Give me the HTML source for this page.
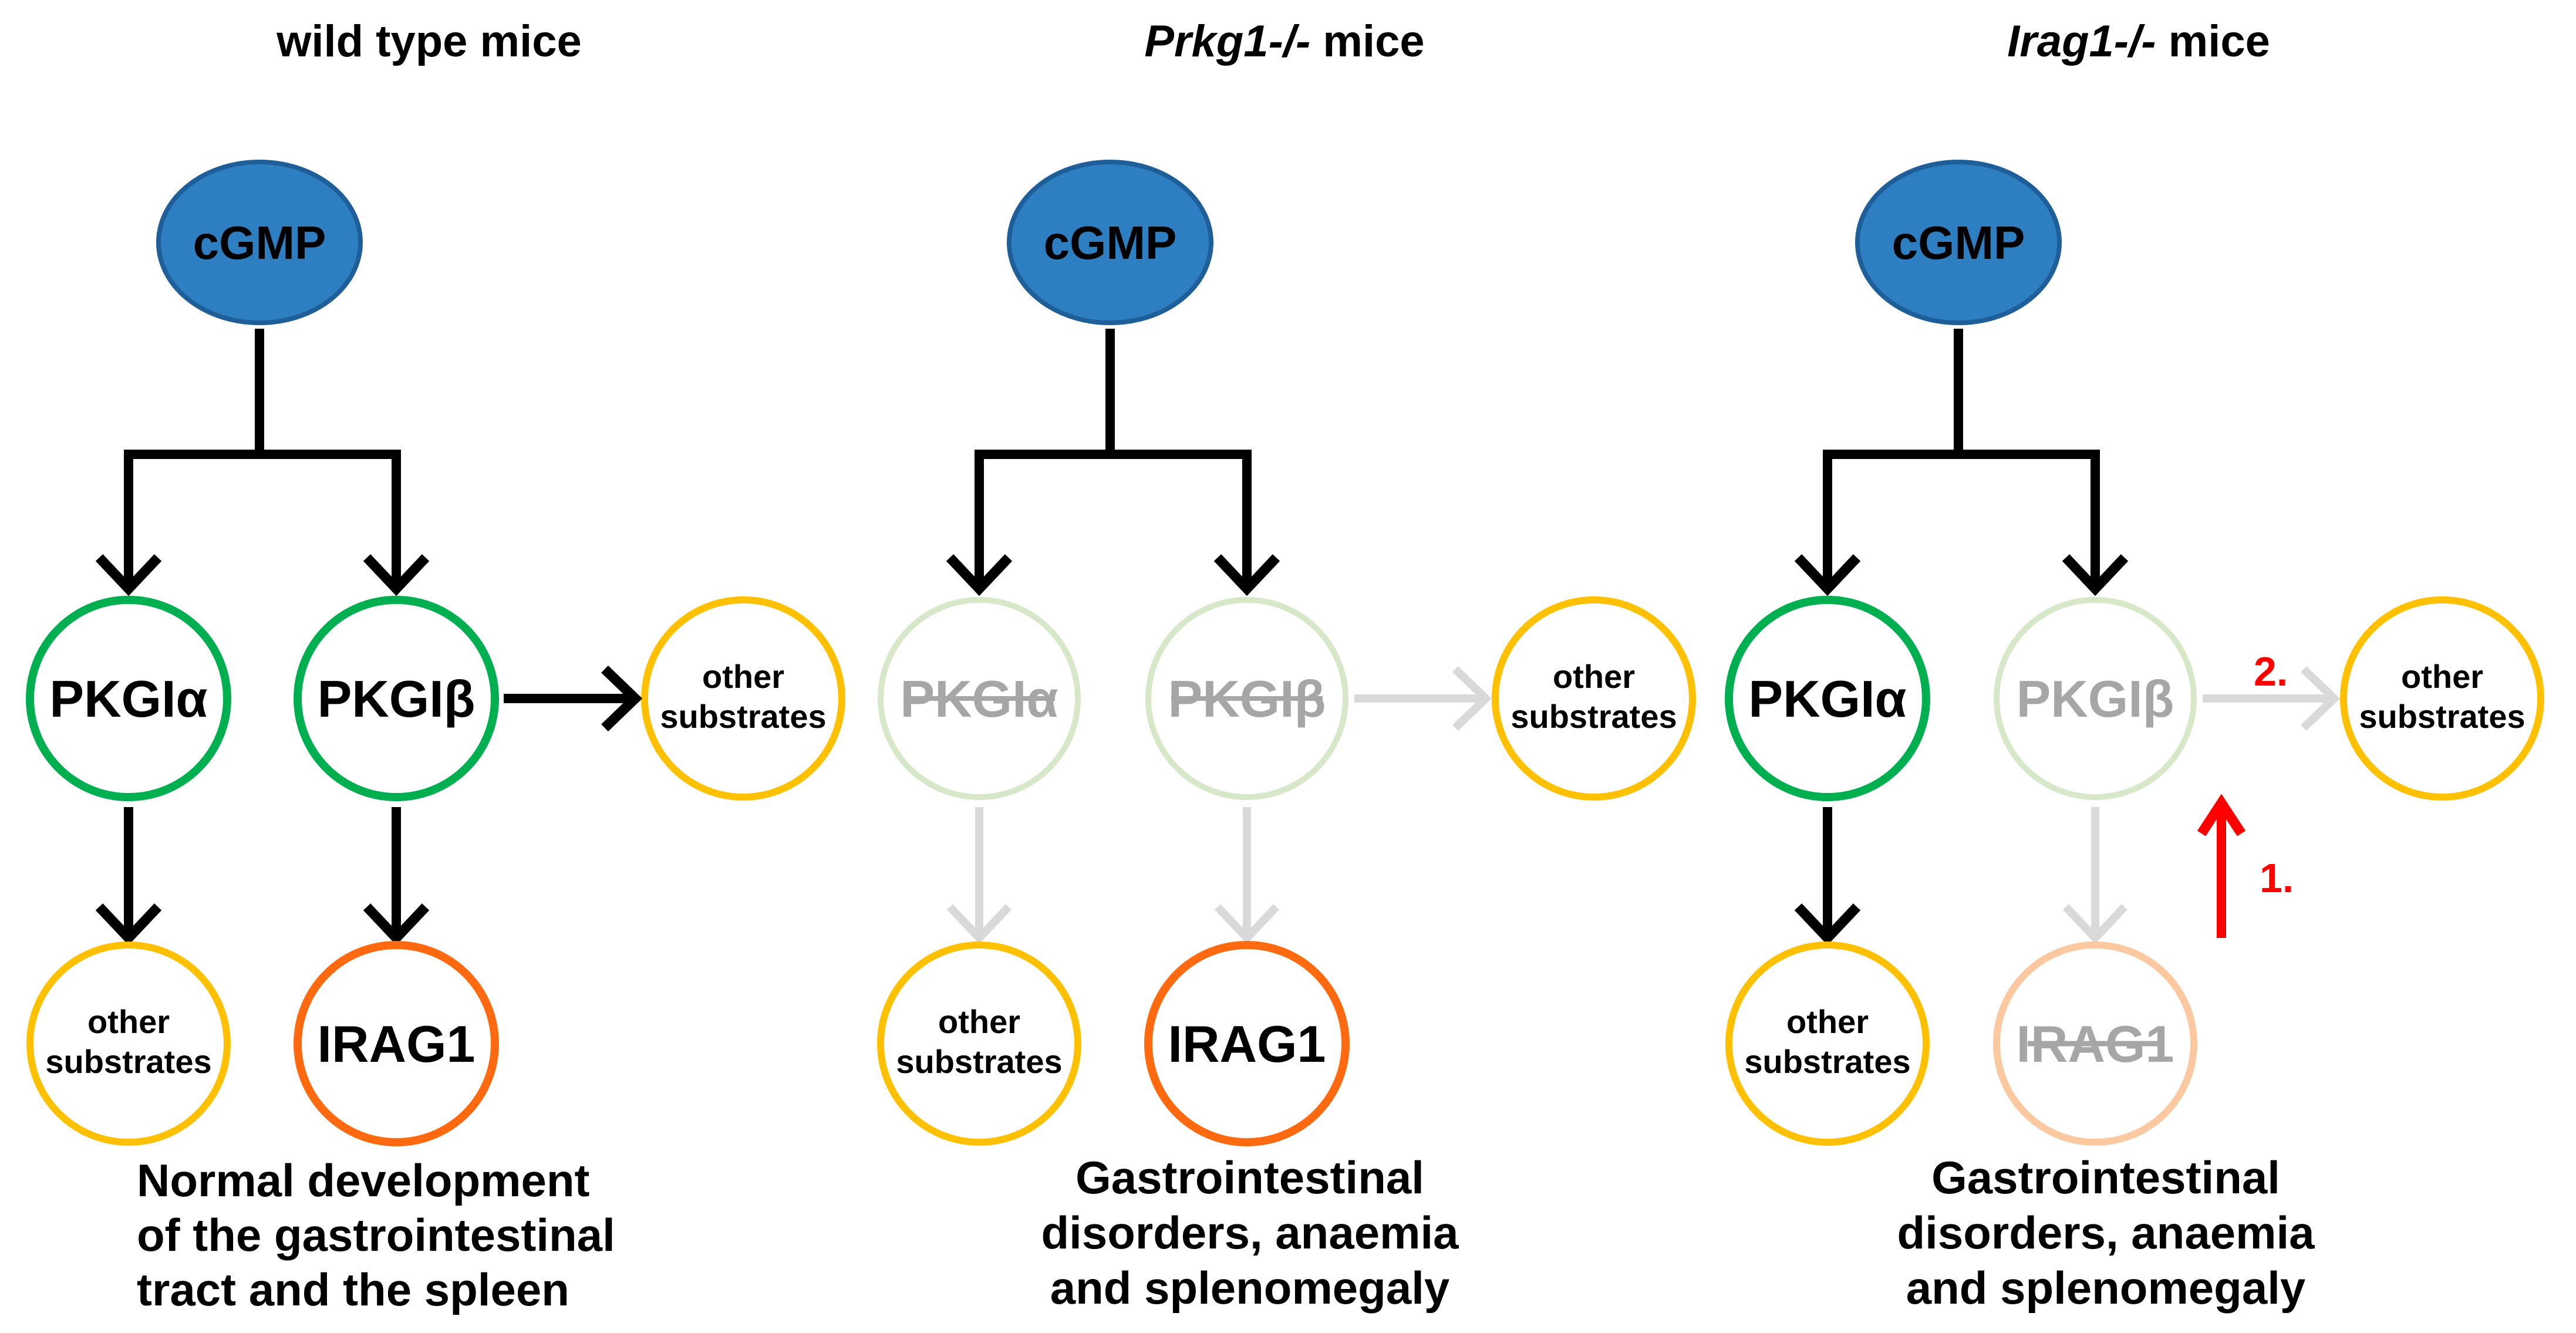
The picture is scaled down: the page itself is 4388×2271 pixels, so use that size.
<!DOCTYPE html>
<html><head><meta charset="utf-8"><style>
html,body{margin:0;padding:0;background:#fff}
svg{display:block}
text{font-family:"Liberation Sans",Arial,sans-serif;font-weight:bold}
</style></head><body>
<svg width="4388" height="2271" viewBox="0 0 4388 2271" xmlns="http://www.w3.org/2000/svg">
<defs>
<g id="tree">
<line x1="442" y1="560" x2="442" y2="780" stroke="#000" stroke-width="16"/>
<polyline points="219,995 219,774 675,774 675,995" fill="none" stroke="#000" stroke-width="16" stroke-linejoin="miter"/>
<polyline points="169,950 219,1003 269,950" fill="none" stroke="#000" stroke-width="17"/>
<polyline points="625,950 675,1003 725,950" fill="none" stroke="#000" stroke-width="17"/>
<ellipse cx="442" cy="413" rx="172" ry="137" fill="#2e7fc1" stroke="#1f5f99" stroke-width="8"/>
<text x="442" y="441" font-size="80" text-anchor="middle" fill="#000">cGMP</text>
</g>
<g id="ah"><polyline points="-36,-50 0,0 36,-50" fill="none" stroke-width="16"/></g>
</defs>

<text x="731" y="96" font-size="76" text-anchor="middle">wild type mice</text>
<text x="2188" y="96" font-size="76" text-anchor="middle"><tspan font-style="italic">Prkg1-/-</tspan> mice</text>
<text x="3643" y="96" font-size="76" text-anchor="middle"><tspan font-style="italic">Irag1-/-</tspan> mice</text>

<!-- Column 1 -->
<use href="#tree"/>
<circle cx="219" cy="1190" r="168" fill="#fff" stroke="#00b050" stroke-width="14"/>
<text x="219" y="1221" font-size="88" text-anchor="middle">PKGIα</text>
<circle cx="675" cy="1190" r="168" fill="#fff" stroke="#00b050" stroke-width="14"/>
<text x="675" y="1221" font-size="88" text-anchor="middle">PKGIβ</text>
<circle cx="1266" cy="1190" r="168" fill="#fff" stroke="#ffc000" stroke-width="12"/>
<text x="1266" y="1172" font-size="56" text-anchor="middle">other</text>
<text x="1266" y="1240" font-size="56" text-anchor="middle">substrates</text>
<line x1="858" y1="1190" x2="1075" y2="1190" stroke="#000" stroke-width="16"/>
<polyline points="1030,1140 1082,1190 1030,1240" fill="none" stroke="#000" stroke-width="17"/>
<line x1="219" y1="1375" x2="219" y2="1590" stroke="#000" stroke-width="16"/>
<polyline points="169,1545 219,1598 269,1545" fill="none" stroke="#000" stroke-width="17"/>
<line x1="675" y1="1375" x2="675" y2="1590" stroke="#000" stroke-width="16"/>
<polyline points="625,1545 675,1598 725,1545" fill="none" stroke="#000" stroke-width="17"/>
<circle cx="219" cy="1778" r="168" fill="#fff" stroke="#ffc000" stroke-width="12"/>
<text x="219" y="1760" font-size="56" text-anchor="middle">other</text>
<text x="219" y="1828" font-size="56" text-anchor="middle">substrates</text>
<circle cx="675" cy="1778" r="168" fill="#fff" stroke="#ff6a10" stroke-width="14"/>
<text x="675" y="1809" font-size="88" text-anchor="middle">IRAG1</text>
<text x="233" y="2038" font-size="78">Normal development</text>
<text x="233" y="2131" font-size="78">of the gastrointestinal</text>
<text x="233" y="2224" font-size="78">tract and the spleen</text>

<!-- Column 2 -->
<g transform="translate(1449,0)">
<use href="#tree"/>
<circle cx="219" cy="1190" r="168" fill="#fff" stroke="#d6e8c8" stroke-width="10"/>
<text x="219" y="1221" font-size="88" text-anchor="middle" fill="#a6a6a6">PKGIα</text>
<line x1="90" y1="1190" x2="348" y2="1190" stroke="#a6a6a6" stroke-width="8"/>
<circle cx="675" cy="1190" r="168" fill="#fff" stroke="#d6e8c8" stroke-width="10"/>
<text x="675" y="1221" font-size="88" text-anchor="middle" fill="#a6a6a6">PKGIβ</text>
<line x1="546" y1="1190" x2="804" y2="1190" stroke="#a6a6a6" stroke-width="8"/>
<circle cx="1266" cy="1190" r="168" fill="#fff" stroke="#ffc000" stroke-width="12"/>
<text x="1266" y="1172" font-size="56" text-anchor="middle">other</text>
<text x="1266" y="1240" font-size="56" text-anchor="middle">substrates</text>
<line x1="858" y1="1190" x2="1075" y2="1190" stroke="#d9d9d9" stroke-width="14"/>
<polyline points="1030,1140 1082,1190 1030,1240" fill="none" stroke="#d9d9d9" stroke-width="14"/>
<line x1="219" y1="1375" x2="219" y2="1590" stroke="#d9d9d9" stroke-width="14"/>
<polyline points="169,1545 219,1598 269,1545" fill="none" stroke="#d9d9d9" stroke-width="14"/>
<line x1="675" y1="1375" x2="675" y2="1590" stroke="#d9d9d9" stroke-width="14"/>
<polyline points="625,1545 675,1598 725,1545" fill="none" stroke="#d9d9d9" stroke-width="14"/>
<circle cx="219" cy="1778" r="168" fill="#fff" stroke="#ffc000" stroke-width="12"/>
<text x="219" y="1760" font-size="56" text-anchor="middle">other</text>
<text x="219" y="1828" font-size="56" text-anchor="middle">substrates</text>
<circle cx="675" cy="1778" r="168" fill="#fff" stroke="#ff6a10" stroke-width="14"/>
<text x="675" y="1809" font-size="88" text-anchor="middle">IRAG1</text>
</g>
<text x="2129" y="2033" font-size="78" text-anchor="middle">Gastrointestinal</text>
<text x="2129" y="2127" font-size="78" text-anchor="middle">disorders, anaemia</text>
<text x="2129" y="2221" font-size="78" text-anchor="middle">and splenomegaly</text>

<!-- Column 3 -->
<g transform="translate(2894,0)">
<use href="#tree"/>
<circle cx="219" cy="1190" r="168" fill="#fff" stroke="#00b050" stroke-width="14"/>
<text x="219" y="1221" font-size="88" text-anchor="middle">PKGIα</text>
<circle cx="675" cy="1190" r="168" fill="#fff" stroke="#d6e8c8" stroke-width="10"/>
<text x="675" y="1221" font-size="88" text-anchor="middle" fill="#a6a6a6">PKGIβ</text>
<circle cx="1266" cy="1190" r="168" fill="#fff" stroke="#ffc000" stroke-width="12"/>
<text x="1266" y="1172" font-size="56" text-anchor="middle">other</text>
<text x="1266" y="1240" font-size="56" text-anchor="middle">substrates</text>
<line x1="858" y1="1190" x2="1075" y2="1190" stroke="#d9d9d9" stroke-width="14"/>
<polyline points="1030,1140 1082,1190 1030,1240" fill="none" stroke="#d9d9d9" stroke-width="14"/>
<line x1="219" y1="1375" x2="219" y2="1590" stroke="#000" stroke-width="16"/>
<polyline points="169,1545 219,1598 269,1545" fill="none" stroke="#000" stroke-width="17"/>
<line x1="675" y1="1375" x2="675" y2="1590" stroke="#d9d9d9" stroke-width="14"/>
<polyline points="625,1545 675,1598 725,1545" fill="none" stroke="#d9d9d9" stroke-width="14"/>
<circle cx="219" cy="1778" r="168" fill="#fff" stroke="#ffc000" stroke-width="12"/>
<text x="219" y="1760" font-size="56" text-anchor="middle">other</text>
<text x="219" y="1828" font-size="56" text-anchor="middle">substrates</text>
<circle cx="675" cy="1778" r="168" fill="#fff" stroke="#fbc8a0" stroke-width="12"/>
<text x="675" y="1809" font-size="88" text-anchor="middle" fill="#a6a6a6">IRAG1</text>
<line x1="560" y1="1778" x2="790" y2="1778" stroke="#a6a6a6" stroke-width="9"/>
<line x1="890" y1="1598" x2="890" y2="1372" stroke="#ff0000" stroke-width="16"/>
<polyline points="856,1420 890,1368 924,1420" fill="none" stroke="#ff0000" stroke-width="17"/>
<text x="955" y="1520" font-size="70" fill="#ff0000">1.</text>
<text x="945" y="1168" font-size="70" fill="#ff0000">2.</text>
</g>
<text x="3587" y="2033" font-size="78" text-anchor="middle">Gastrointestinal</text>
<text x="3587" y="2127" font-size="78" text-anchor="middle">disorders, anaemia</text>
<text x="3587" y="2221" font-size="78" text-anchor="middle">and splenomegaly</text>
</svg>
</body></html>
